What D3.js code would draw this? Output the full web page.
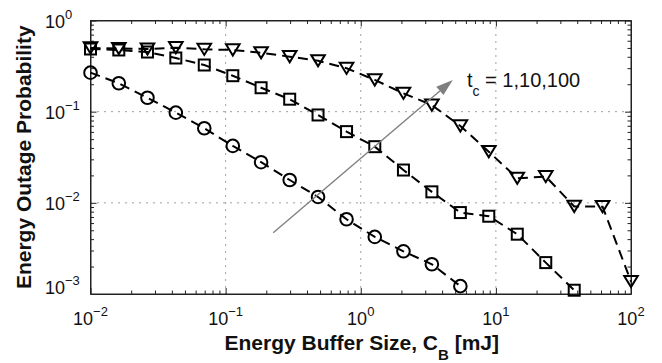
<!DOCTYPE html>
<html>
<head>
<meta charset="utf-8">
<script src="https://cdnjs.cloudflare.com/ajax/libs/d3/7.8.5/d3.min.js"></script>
<style>
    body { margin: 0; background: #fff; }
    svg { display: block; font-family: "Liberation Sans", Arial, Helvetica, sans-serif; }
</style>
</head>
<body>
<svg id="svgid" width="662" height="363"></svg>
<script>
// values
var bufferSize = [0.01, 0.0162, 0.0264, 0.0428, 0.0695, 0.113, 0.183, 0.298, 0.483, 0.785,
                  1.27, 2.07, 3.36, 5.46, 8.86, 14.4, 23.4, 38.0, 61.6, 100];
var outageTc1 = [0.268, 0.205, 0.142, 0.0975, 0.0658, 0.0421, 0.0279, 0.0178, 0.0116, 0.0066,
                 0.00423, 0.00294, 0.00212, 0.00122];
var outageTc10 = [0.487, 0.475, 0.451, 0.388, 0.325, 0.248, 0.183, 0.137, 0.092, 0.0604,
                  0.0413, 0.0229, 0.0132, 0.00782, 0.00713, 0.00453, 0.00221, 0.0011];
var outageTc100 = [0.50, 0.493, 0.487, 0.503, 0.483, 0.475, 0.443, 0.401, 0.362, 0.299,
                   0.223, 0.159, 0.118, 0.0697, 0.0364, 0.0186, 0.0194, 0.00914, 0.00908, 0.00137];
var xTickExp = [-2, -1, 0, 1, 2];
var yTickExp = [-3, -2, -1, 0];
var arrowFrom = [0.225, 0.0047],
    arrowTo = [4.8, 0.223];
var tcLabel = " = 1,10,100";

var svg = d3.select("svg"),
    pLeft = 90.5, pRight = 631, pTop = 20.5, pBottom = 294,
    x = d3.scaleLog().domain([0.01, 100]).range([pLeft, pRight]),
    y = d3.scaleLog().domain([0.001, 1]).range([pBottom, pTop]),
    majorX = xTickExp.map(function (e) { return Math.pow(10, e); }),
    majorY = yTickExp.map(function (e) { return Math.pow(10, e); }),
    minorX = [], minorY = [],
    drawGrid, drawTicks, drawSeries, drawLabels, drawArrow, pairs;

xTickExp.slice(0, -1).forEach(function (e) {
    for (var k = 2; k < 10; ++k) minorX.push(k * Math.pow(10, e));
});
yTickExp.slice(0, -1).forEach(function (e) {
    for (var k = 2; k < 10; ++k) minorY.push(k * Math.pow(10, e));
});

pairs = function (ys) {
    return ys.map(function (v, i) { return [bufferSize[i], v]; });
};

drawGrid = function () {
    var g = svg.append("g")
        .attr("stroke", "#444")
        .attr("stroke-width", 1)
        .attr("stroke-dasharray", "1,6");
    majorX.slice(1, -1).forEach(function (v) {
        g.append("line").attr("x1", x(v)).attr("x2", x(v)).attr("y1", pTop).attr("y2", pBottom);
    });
    majorY.slice(1, -1).forEach(function (v) {
        g.append("line").attr("x1", pLeft).attr("x2", pRight).attr("y1", y(v)).attr("y2", y(v));
    });
};

drawTicks = function () {
    var specs = [
        [d3.axisBottom(x), "translate(0," + pBottom + ")", majorX, minorX],
        [d3.axisTop(x), "translate(0," + pTop + ")", majorX, minorX],
        [d3.axisLeft(y), "translate(" + pLeft + ",0)", majorY, minorY],
        [d3.axisRight(y), "translate(" + pRight + ",0)", majorY, minorY]
    ];
    specs.forEach(function (s) {
        svg.append("g").attr("transform", s[1])
            .call(s[0].tickValues(s[2]).tickSize(-6).tickSizeOuter(0).tickFormat(""));
        var gMin = svg.append("g").attr("transform", s[1])
            .call(s[0].tickValues(s[3]).tickSize(-3.5).tickSizeOuter(0).tickFormat(""));
        gMin.select(".domain").remove();
    });
    svg.selectAll(".domain").attr("stroke", "#222");
    svg.selectAll(".tick line").attr("stroke", "#222");
    svg.append("rect")
        .attr("x", pLeft).attr("y", pTop)
        .attr("width", pRight - pLeft).attr("height", pBottom - pTop)
        .attr("fill", "none").attr("stroke", "#222").attr("stroke-width", 1);
};

drawSeries = function (ys, marker) {
    var data = pairs(ys),
        line = d3.line().x(function (d) { return x(d[0]); }).y(function (d) { return y(d[1]); });

    svg.append("path")
        .attr("d", line(data))
        .attr("fill", "none")
        .attr("stroke", "#000")
        .attr("stroke-width", 2)
        .attr("stroke-dasharray", "10,6");

    var g = svg.append("g")
        .attr("fill", "none")
        .attr("stroke", "#000")
        .attr("stroke-width", 2);

    data.forEach(function (d) {
        var cx = x(d[0]), cy = y(d[1]);
        if (marker === "circle") {
            g.append("circle").attr("cx", cx).attr("cy", cy).attr("r", 6.3);
        } else if (marker === "square") {
            g.append("rect").attr("x", cx - 5.5).attr("y", cy - 5.5).attr("width", 11).attr("height", 11);
        } else {
            g.append("polygon")
                .attr("points", [[cx - 6.8, cy - 5.6], [cx + 6.8, cy - 5.6], [cx, cy + 5.6]].join(" "));
        }
    });
};

drawArrow = function () {
    var x1 = x(arrowFrom[0]), y1 = y(arrowFrom[1]),
        x2 = x(arrowTo[0]), y2 = y(arrowTo[1]),
        ang = Math.atan2(y2 - y1, x2 - x1),
        len = 17, half = 5.5,
        bx = x2 - len * Math.cos(ang), by = y2 - len * Math.sin(ang);

    svg.append("line")
        .attr("x1", x1).attr("y1", y1).attr("x2", bx).attr("y2", by)
        .attr("stroke", "#7f7f7f").attr("stroke-width", 1.4);
    svg.append("polygon")
        .attr("points", [[x2, y2],
            [bx + half * Math.sin(ang), by - half * Math.cos(ang)],
            [bx - half * Math.sin(ang), by + half * Math.cos(ang)]].join(" "))
        .attr("fill", "#7f7f7f");

    var t = svg.append("text")
        .attr("x", 467).attr("y", 87)
        .attr("font-size", 20)
        .attr("fill", "#111");
    t.append("tspan").text("t");
    t.append("tspan").attr("font-size", 14).attr("dy", 9).text("c");
    t.append("tspan").attr("dy", -9).text(tcLabel);
};

drawLabels = function () {
    xTickExp.forEach(function (e) {
        var t = svg.append("text")
            .attr("x", x(Math.pow(10, e)))
            .attr("y", 325)
            .attr("text-anchor", "middle")
            .attr("font-size", 18)
            .attr("fill", "#111");
        t.append("tspan").text("10");
        t.append("tspan").attr("font-size", 13).attr("dy", -9)
            .text(String(e).replace("-", "\u2212"));
    });

    yTickExp.forEach(function (e) {
        var v = Math.pow(10, e),
            t = svg.append("text")
            .attr("x", 45)
            .attr("y", e === -3 ? y(v) : y(v) + 7)
            .attr("font-size", 18)
            .attr("fill", "#111");
        t.append("tspan").text("10");
        t.append("tspan").attr("font-size", 13).attr("dy", -9)
            .text(String(e).replace("-", "\u2212"));
    });

    var xl = svg.append("text")
        .attr("x", (pLeft + pRight) / 2 + 1)
        .attr("y", 350)
        .attr("text-anchor", "middle")
        .attr("font-size", 21)
        .attr("font-weight", "bold")
        .attr("fill", "#111");
    xl.append("tspan").text("Energy Buffer Size, C");
    xl.append("tspan").attr("font-size", 15).attr("dy", 10).text("B");
    xl.append("tspan").attr("dy", -10).text(" [mJ]");

    svg.append("text")
        .attr("transform", "translate(31," + ((pTop + pBottom) / 2) + ") rotate(-90)")
        .attr("text-anchor", "middle")
        .attr("font-size", 21)
        .attr("font-weight", "bold")
        .attr("fill", "#111")
        .text("Energy Outage Probability");
};

drawGrid();
drawTicks();
drawSeries(outageTc1, "circle");
drawSeries(outageTc10, "square");
drawSeries(outageTc100, "triangle");
drawArrow();
drawLabels();
</script>
</body>
</html>
